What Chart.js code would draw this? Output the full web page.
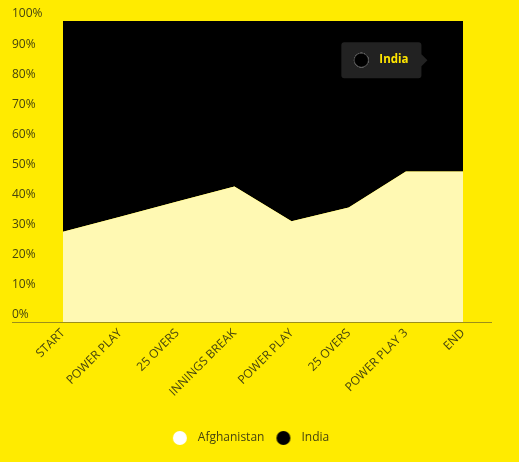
<!DOCTYPE html>
<html>
<head>
<meta charset="utf-8">
<script src="https://cdn.jsdelivr.net/npm/chart.js@4/dist/chart.umd.min.js"></script>
<style>
  html, body { margin: 0; padding: 0; background: #ffeb00; }
  #wrap { width: 519px; height: 462px; }
</style>
</head>
<body>
<div id="wrap"><canvas id="grafico"></canvas></div>
<script>
const etapas = ["START", "POWER PLAY", "25 OVERS", "INNINGS BREAK", "POWER PLAY", "25 OVERS", "POWER PLAY 3", "END"];
const afganistan = [30, 35, 40, 45, 33.5, 38, 50, 50];
const india = [70, 65, 60, 55, 66.5, 62, 50, 50];
const ticksY = [0, 10, 20, 30, 40, 50, 60, 70, 80, 90, 100];

const texto = "#47450f";

// circulito para la leyenda
function circulo(color) {
  const c = document.createElement("canvas");
  c.width = 16;
  c.height = 16;
  const g = c.getContext("2d");
  g.fillStyle = color;
  g.beginPath();
  g.arc(8, 8, 7, 0, Math.PI * 2);
  g.fill();
  return c;
}
const puntos = [circulo("#ffffff"), circulo("#000000")];

// el tooltip del original queda fijo entre POWER PLAY 3 y END
Chart.Tooltip.positioners.fijo = function () {
  const c = this.chart;
  return { x: c.scales.x.getPixelForValue(6.5), y: c.scales.y.getPixelForValue(87) };
};

// linea del eje x, mas larga que el area; y leyenda un poco corrida a la derecha
const ajustes = {
  id: "ajustes",
  afterLayout(chart) {
    chart.legend.left += 11;
    chart.legend.right += 11;
  },
  beforeDatasetsDraw(chart) {
    const { ctx, chartArea } = chart;
    ctx.save();
    ctx.strokeStyle = "#9c8f1a";
    ctx.lineWidth = 1;
    ctx.beginPath();
    ctx.moveTo(12, chartArea.bottom + 0.5);
    ctx.lineTo(chartArea.right + 29, chartArea.bottom + 0.5);
    ctx.stroke();
    ctx.restore();
  }
};

const chart = new Chart(document.getElementById("grafico"), {
  type: "line",
  data: {
    labels: etapas,
    datasets: [
      {
        label: "Afghanistan",
        data: afganistan,
        backgroundColor: "#fff9b3",
        borderWidth: 0,
        pointRadius: 0,
        fill: "origin"
      },
      {
        label: "India",
        data: india,
        backgroundColor: "#000000",
        borderWidth: 0,
        pointRadius: 0,
        fill: "-1"
      }
    ]
  },
  options: {
    responsive: true,
    maintainAspectRatio: false,
    animation: false,
    layout: { padding: { left: 12, right: 56, top: 21, bottom: 8 } },
    scales: {
      x: {
        type: "category",
        offset: false,
        afterFit(scale) { scale.height = 103; },
        grid: { display: false, drawTicks: false },
        border: { display: false },
        ticks: {
          color: texto,
          font: { family: "Open Sans", size: 12 },
          maxRotation: 45,
          minRotation: 45,
          padding: 4
        }
      },
      y: {
        stacked: true,
        min: 0,
        max: 100,
        afterFit(scale) { scale.width = 51; },
        afterBuildTicks(scale) { scale.ticks = ticksY.map(v => ({ value: v })); },
        grid: { display: false },
        border: { display: false },
        ticks: {
          color: texto,
          font: { family: "Open Sans", size: 12 },
          crossAlign: "far",
          labelOffset: -7,
          callback: v => v + "%"
        }
      }
    },
    plugins: {
      legend: {
        position: "bottom",
        labels: {
          usePointStyle: true,
          pointStyleWidth: 24,
          boxHeight: 12,
          padding: 7,
          color: texto,
          font: { family: "Open Sans", size: 12 },
          generateLabels(chart) {
            return chart.data.datasets.map((d, i) => ({
              text: d.label,
              fillStyle: i === 0 ? "#ffffff" : "#000000",
              strokeStyle: "rgba(0,0,0,0)",
              lineWidth: 0,
              pointStyle: puntos[i],
              fontColor: texto,
              datasetIndex: i
            }));
          }
        }
      },
      tooltip: {
        enabled: true,
        position: "fijo",
        xAlign: "right",
        yAlign: "center",
        backgroundColor: "#222222",
        bodyColor: "#ffe600",
        bodyFont: { family: "Open Sans", size: 11.5, weight: "bold" },
        padding: { x: 13, y: 11 },
        caretSize: 6,
        caretPadding: 7,
        cornerRadius: 3,
        usePointStyle: true,
        boxWidth: 14,
        boxHeight: 14,
        boxPadding: 9,
        displayColors: true,
        callbacks: {
          title: () => "",
          label: ctx => ctx.dataset.label,
          labelColor: () => ({ backgroundColor: "#000000", borderColor: "#333333" }),
          labelPointStyle: () => ({ pointStyle: "circle", rotation: 0 })
        }
      }
    }
  },
  plugins: [ajustes]
});

chart.tooltip.setActiveElements([{ datasetIndex: 1, index: 7 }], { x: 434, y: 60 });
chart.update();
</script>
</body>
</html>
